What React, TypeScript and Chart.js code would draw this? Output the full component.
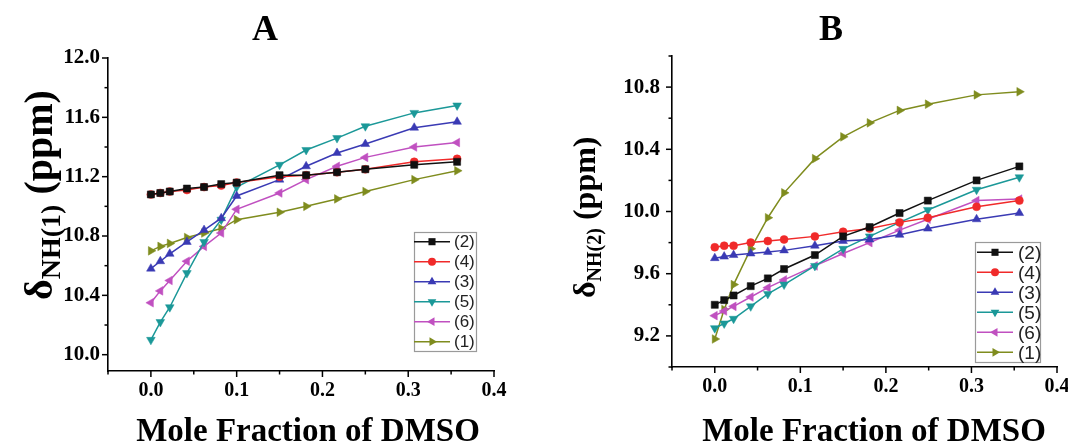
import React, { useEffect, useRef } from 'react';
import { Chart, registerables } from 'chart.js';

Chart.register(...registerables);

// ---------- shared series meta ----------
const seriesLabels = ['(2)', '(4)', '(3)', '(5)', '(6)', '(1)'];
const seriesColors = ['#111111', '#f02a2a', '#3a3ab4', '#1b9898', '#c050c0', '#7f8c1e'];
const seriesPointStyles = ['rect', 'circle', 'triangle', 'triangle', 'triangle', 'triangle'];
const seriesRotations = [0, 0, 0, 180, -90, 90];
const seriesRadii = [5, 4, 5, 5, 5, 5];

// ---------- panel A data ----------
const xA = [0, 0.011, 0.022, 0.042, 0.062, 0.082, 0.1, 0.15, 0.181, 0.217, 0.25, 0.307, 0.357];
const c2A = [11.08, 11.09, 11.10, 11.12, 11.13, 11.15, 11.16, 11.21, 11.21, 11.23, 11.25, 11.28, 11.30];
const c4A = [11.08, 11.09, 11.10, 11.11, 11.13, 11.14, 11.16, 11.20, 11.21, 11.23, 11.25, 11.30, 11.32];
const c3A = [10.58, 10.63, 10.68, 10.76, 10.84, 10.92, 11.07, 11.18, 11.27, 11.36, 11.42, 11.53, 11.57];
const c5A = [10.10, 10.22, 10.32, 10.55, 10.76, 10.91, 11.13, 11.28, 11.38, 11.46, 11.54, 11.63, 11.68];
const c6A = [10.35, 10.43, 10.50, 10.63, 10.73, 10.82, 10.98, 11.09, 11.18, 11.27, 11.33, 11.40, 11.43];
const c1A = [10.70, 10.73, 10.75, 10.79, 10.82, 10.85, 10.91, 10.96, 11.00, 11.05, 11.10, 11.18, 11.24];
const yTicksA = [10.0, 10.4, 10.8, 11.2, 11.6, 12.0];
const yMinorA = [10.2, 10.6, 11.0, 11.4, 11.8];

// ---------- panel B data ----------
const xB = [0, 0.011, 0.022, 0.042, 0.062, 0.081, 0.117, 0.15, 0.181, 0.216, 0.249, 0.306, 0.356];
const c2B = [9.40, 9.43, 9.46, 9.52, 9.57, 9.63, 9.72, 9.84, 9.90, 9.99, 10.07, 10.20, 10.29];
const c4B = [9.77, 9.78, 9.78, 9.80, 9.81, 9.82, 9.84, 9.87, 9.89, 9.93, 9.96, 10.03, 10.07];
const c3B = [9.70, 9.71, 9.72, 9.73, 9.74, 9.75, 9.78, 9.81, 9.82, 9.85, 9.89, 9.95, 9.99];
const c5B = [9.25, 9.28, 9.31, 9.39, 9.47, 9.53, 9.65, 9.76, 9.84, 9.93, 10.01, 10.14, 10.22];
const c6B = [9.33, 9.36, 9.39, 9.45, 9.51, 9.56, 9.65, 9.73, 9.80, 9.88, 9.95, 10.07, 10.08];
const c1B = [9.18, 9.37, 9.53, 9.76, 9.96, 10.12, 10.34, 10.48, 10.57, 10.65, 10.69, 10.75, 10.77];
const yTicksB = [9.2, 9.6, 10.0, 10.4, 10.8];
const yMinorB = [9.0, 9.4, 9.8, 10.2, 10.6, 11.0];

// ---------- shared x ticks ----------
const xTicks = [0.0, 0.1, 0.2, 0.3, 0.4];
const xMinor = [-0.05, 0.05, 0.15, 0.25, 0.35];
const xTitle = 'Mole Fraction of DMSO';

type Panel = {
  title: string;
  sub: string;
  x: number[];
  series: number[][];
  yMin: number;
  yMax: number;
  yTicks: number[];
  yMinor: number[];
  canvasW: number;
  left: number;
  yAxisW: number;
  yLabelPad: number;
  padRight: number;
  padTop: number;
  xAxisH: number;
  titleX: number;
  xTitleX: number;
  yTitleX: number;
  yTitleStart: number;
  yFont: [number, number, number];
  legend: { x: number; y: number; w: number; h: number; row0: number; lineX0: number; lineX1: number; textX: number; font: number };
};

const panels: Panel[] = [
  {
    title: 'A', sub: 'NH(1)', x: xA, series: [c2A, c4A, c3A, c5A, c6A, c1A],
    yMin: 9.89, yMax: 12.0, yTicks: yTicksA, yMinor: yMinorA,
    canvasW: 534, left: 0, yAxisW: 108, yLabelPad: 8, padRight: 40, padTop: 58, xAxisH: 72,
    titleX: 265, xTitleX: 308, yTitleX: 52, yTitleStart: 300, yFont: [40, 28, 40],
    legend: { x: 414, y: 232, w: 62, h: 119, row0: 241.7, lineX0: 414, lineX1: 450, textX: 454, font: 17 },
  },
  {
    title: 'B', sub: 'NH(2)', x: xB, series: [c2B, c4B, c3B, c5B, c6B, c1B],
    yMin: 9.0, yMax: 11.0, yTicks: yTicksB, yMinor: yMinorB,
    canvasW: 560, left: 534, yAxisW: 138, yLabelPad: 12, padRight: 37, padTop: 56, xAxisH: 76,
    titleX: 297, xTitleX: 340, yTitleX: 61, yTitleStart: 298, yFont: [32, 20, 32],
    legend: { x: 441, y: 242, w: 65, h: 120, row0: 252.3, lineX0: 443, lineX1: 479, textX: 484, font: 19 },
  },
];

const SERIF = "'Liberation Serif', 'Times New Roman', serif";
const SANS = "'Liberation Sans', Arial, sans-serif";

function drawMarker(ctx: CanvasRenderingContext2D, i: number, x: number, y: number) {
  const style = seriesPointStyles[i];
  const r = seriesRadii[i];
  ctx.fillStyle = seriesColors[i];
  ctx.beginPath();
  if (style === 'rect') {
    const s = Math.SQRT1_2 * r;
    ctx.rect(x - s, y - s, 2 * s, 2 * s);
  } else if (style === 'circle') {
    ctx.arc(x, y, r, 0, Math.PI * 2);
  } else {
    let rad = (seriesRotations[i] * Math.PI) / 180;
    for (let k = 0; k < 3; k++) {
      const px = x + Math.sin(rad) * r;
      const py = y - Math.cos(rad) * r;
      if (k === 0) ctx.moveTo(px, py);
      else ctx.lineTo(px, py);
      rad += (2 * Math.PI) / 3;
    }
    ctx.closePath();
  }
  ctx.fill();
}

function makeDecor(p: Panel) {
  return {
    id: 'decor' + p.title,
    afterDraw(chart: any) {
      const { ctx, chartArea } = chart;
      const xs = chart.scales.x;
      const ys = chart.scales.y;
      ctx.save();
      // tick marks
      ctx.strokeStyle = '#000';
      ctx.lineWidth = 1.5;
      const tick = (x0: number, y0: number, x1: number, y1: number) => {
        ctx.beginPath();
        ctx.moveTo(x0, y0);
        ctx.lineTo(x1, y1);
        ctx.stroke();
      };
      for (const v of xTicks) { const px = xs.getPixelForValue(v); tick(px, chartArea.bottom, px, chartArea.bottom + 6); }
      for (const v of xMinor) { const px = xs.getPixelForValue(v); tick(px, chartArea.bottom, px, chartArea.bottom + 3.5); }
      for (const v of p.yTicks) { const py = ys.getPixelForValue(v); tick(chartArea.left, py, chartArea.left - 6, py); }
      for (const v of p.yMinor) { const py = ys.getPixelForValue(v); tick(chartArea.left, py, chartArea.left - 3.5, py); }

      // panel title
      ctx.fillStyle = '#000';
      ctx.textAlign = 'center';
      ctx.textBaseline = 'alphabetic';
      ctx.font = `bold 36px ${SERIF}`;
      ctx.fillText(p.title, p.titleX, 40);

      // x title
      ctx.font = `bold 33px ${SERIF}`;
      ctx.fillText(xTitle, p.xTitleX, 441);

      // y title with subscript
      ctx.save();
      ctx.translate(p.yTitleX, p.yTitleStart);
      ctx.rotate(-Math.PI / 2);
      ctx.textAlign = 'left';
      let cx = 0;
      ctx.font = `bold ${p.yFont[0]}px ${SERIF}`;
      ctx.fillText('δ', cx, 0);
      cx += ctx.measureText('δ').width;
      ctx.font = `bold ${p.yFont[1]}px ${SERIF}`;
      ctx.fillText(p.sub, cx, p.yFont[1] * 0.3);
      cx += ctx.measureText(p.sub).width;
      ctx.font = `bold ${p.yFont[2]}px ${SERIF}`;
      ctx.fillText(' (ppm)', cx, 0);
      ctx.restore();

      // legend box
      const L = p.legend;
      ctx.fillStyle = '#fff';
      ctx.fillRect(L.x, L.y, L.w, L.h);
      ctx.strokeStyle = '#9a9a9a';
      ctx.lineWidth = 1.2;
      ctx.strokeRect(L.x + 0.5, L.y + 0.5, L.w, L.h);
      for (let i = 0; i < seriesLabels.length; i++) {
        const ry = L.row0 + i * 20;
        ctx.strokeStyle = seriesColors[i];
        ctx.lineWidth = 1.4;
        ctx.beginPath();
        ctx.moveTo(L.lineX0, ry);
        ctx.lineTo(L.lineX1, ry);
        ctx.stroke();
        drawMarker(ctx, i, (L.lineX0 + L.lineX1) / 2, ry);
        ctx.fillStyle = '#222';
        ctx.font = `${L.font}px ${SANS}`;
        ctx.textAlign = 'left';
        ctx.textBaseline = 'middle';
        ctx.fillText(seriesLabels[i], L.textX, ry + 1);
      }
      ctx.restore();
    },
  };
}

function makeConfig(p: Panel): any {
  return {
    type: 'line',
    data: {
      datasets: p.series.map((vals, i) => ({
        label: seriesLabels[i],
        data: p.x.map((xv, k) => ({ x: xv, y: vals[k] })),
        borderColor: seriesColors[i],
        backgroundColor: seriesColors[i],
        pointBackgroundColor: seriesColors[i],
        pointBorderColor: seriesColors[i],
        pointStyle: seriesPointStyles[i],
        pointRotation: seriesRotations[i],
        pointRadius: seriesRadii[i],
        pointBorderWidth: 0.5,
        borderWidth: 1.5,
        tension: 0,
        fill: false,
      })),
    },
    options: {
      responsive: false,
      animation: false,
      devicePixelRatio: 1,
      layout: { padding: { left: 0, right: p.padRight, top: p.padTop, bottom: 0 } },
      plugins: { legend: { display: false }, tooltip: { enabled: false }, title: { display: false } },
      scales: {
        x: {
          type: 'linear',
          min: -0.05,
          max: 0.4,
          grid: { display: false, drawTicks: false },
          border: { display: true, color: '#000', width: 1.6 },
          afterBuildTicks: (s: any) => { s.ticks = xTicks.map((v) => ({ value: v })); },
          afterFit: (s: any) => { s.height = p.xAxisH; },
          ticks: {
            color: '#000',
            padding: 8,
            maxRotation: 0,
            font: { family: SERIF, weight: 'bold', size: 20 },
            callback: (v: any) => Number(v).toFixed(1),
          },
        },
        y: {
          type: 'linear',
          min: p.yMin,
          max: p.yMax,
          grid: { display: false, drawTicks: false },
          border: { display: true, color: '#000', width: 1.6 },
          afterBuildTicks: (s: any) => { s.ticks = p.yTicks.map((v) => ({ value: v })); },
          afterFit: (s: any) => { s.width = p.yAxisW; },
          ticks: {
            color: '#000',
            padding: p.yLabelPad,
            font: { family: SERIF, weight: 'bold', size: 21 },
            callback: (v: any) => Number(v).toFixed(1),
          },
        },
      },
    },
    plugins: [makeDecor(p)],
  };
}

function PanelChart({ p }: { p: Panel }) {
  const ref = useRef<HTMLCanvasElement | null>(null);
  useEffect(() => {
    if (!ref.current) return;
    const chart = new Chart(ref.current, makeConfig(p));
    return () => chart.destroy();
  }, [p]);
  return (
    <canvas
      ref={ref}
      width={p.canvasW}
      height={443}
      style={{ position: 'absolute', left: p.left, top: 0, width: p.canvasW, height: 443 }}
    />
  );
}

export default function App() {
  return (
    <div style={{ position: 'fixed', left: 0, top: 0, width: 1068, height: 443, overflow: 'hidden', background: '#fff' }}>
      {panels.map((p) => (
        <PanelChart key={p.title} p={p} />
      ))}
    </div>
  );
}
